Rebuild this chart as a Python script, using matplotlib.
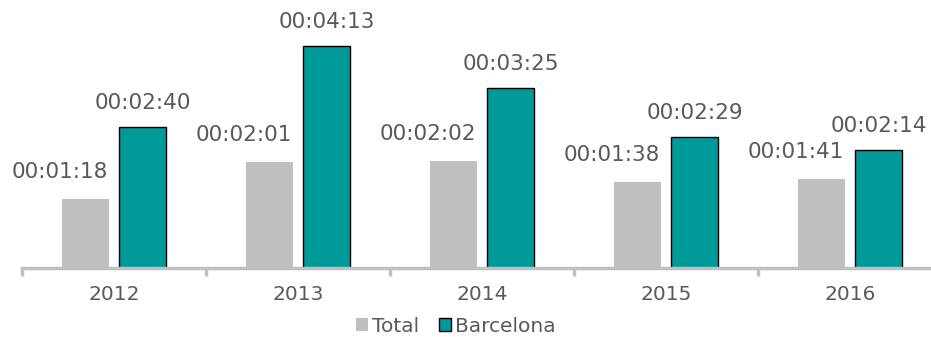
import matplotlib
matplotlib.use("Agg")
import matplotlib.pyplot as plt
import numpy as np

years = ["2012", "2013", "2014", "2015", "2016"]
total_sec = [78, 121, 122, 98, 101]
barcelona_sec = [160, 253, 205, 149, 134]
total_labels = ["00:01:18", "00:02:01", "00:02:02", "00:01:38", "00:01:41"]
barcelona_labels = ["00:02:40", "00:04:13", "00:03:25", "00:02:29", "00:02:14"]

W, H = 931, 337
fig = plt.figure(figsize=(W / 100, H / 100), dpi=100)
ax = fig.add_axes([22 / W, 1 - 268 / H, (942 - 22) / W, 268 / H])

x = np.arange(len(years))
bw = 0.255
off = 0.157
txt = "#595959"
b1 = ax.bar(x - off, total_sec, bw, color="#BFBFBF", label="Total", zorder=2)
b2 = ax.bar(x + off, barcelona_sec, bw, color="#009999", edgecolor="black",
            linewidth=1.0, label="Barcelona", zorder=2)

fs = 14.5
lfs = 15.5
for xi, v, lab in zip(x, total_sec, total_labels):
    ax.annotate(lab, (xi - off, v), xytext=(-25, 27), textcoords="offset pixels",
                ha="center", va="center", fontsize=lfs, color=txt)
for xi, v, lab in zip(x, barcelona_sec, barcelona_labels):
    ax.annotate(lab, (xi + off, v), xytext=(0, 24), textcoords="offset pixels",
                ha="center", va="center", fontsize=lfs, color=txt)

ax.set_xlim(-0.5, 4.5)
ax.set_ylim(0, 305)
for s in ["top", "right", "left"]:
    ax.spines[s].set_visible(False)
ax.spines["bottom"].set_color("#BFBFBF")
ax.spines["bottom"].set_linewidth(2.5)
ax.set_yticks([])
ax.set_xticks(x)
ax.set_xticklabels(years, fontsize=fs, color=txt)
ax.tick_params(axis="x", which="major", length=0, pad=12)
ax.set_xticks(np.arange(-0.5, 5.0, 1.0), minor=True)
ax.tick_params(axis="x", which="minor", length=6, width=2.5, color="#BFBFBF")

leg = fig.legend(handles=[b1, b2], loc="center", bbox_to_anchor=(456 / W, 1 - 326 / H),
                 ncol=2, frameon=False, fontsize=fs, handlelength=0.6, handleheight=0.6,
                 handletextpad=0.2, columnspacing=1.0, borderpad=0)
for t in leg.get_texts():
    t.set_color(txt)

fig.savefig("out.png", dpi=100)
